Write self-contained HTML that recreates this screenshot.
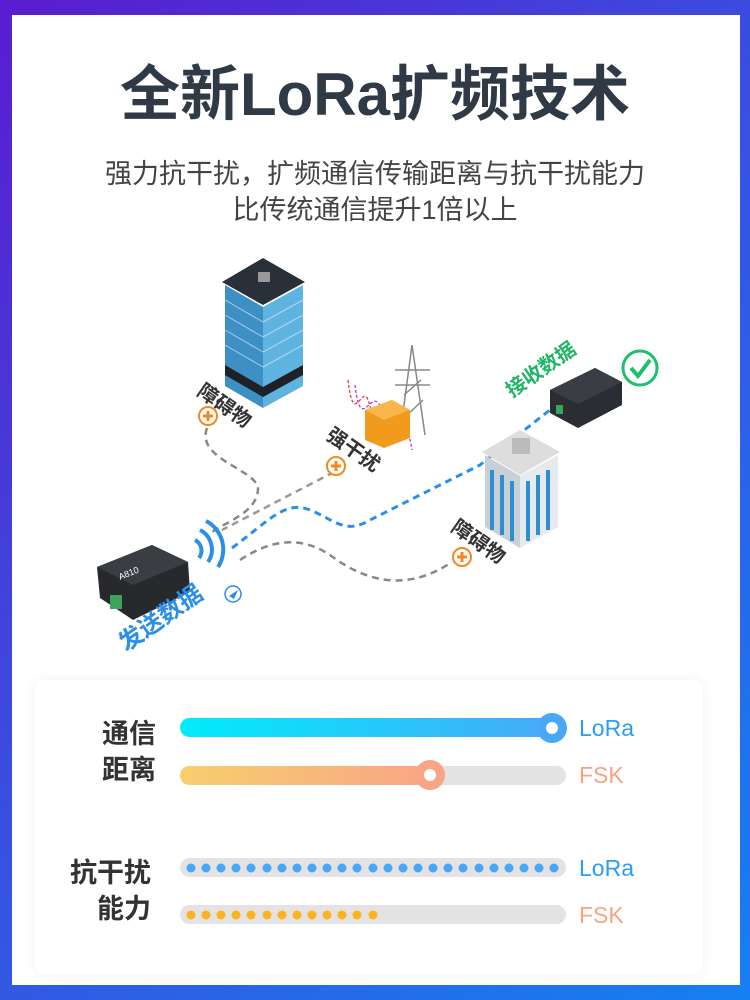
<!DOCTYPE html>
<html><head><meta charset="utf-8"><style>
*{margin:0;padding:0;box-sizing:border-box}
body{width:750px;height:1000px;overflow:hidden;background:linear-gradient(135deg,#5a1ccf 0%,#3a4de0 45%,#1580f2 100%);position:relative;font-family:"Liberation Sans","Noto Sans CJK SC",sans-serif}
.panel{position:absolute;left:12px;top:15px;width:728px;height:970px;background:#fff}
.t{position:absolute;left:0;width:750px;text-align:center}
.card{position:absolute;left:35px;top:680px;width:668px;height:295px;background:#fff;border-radius:10px;box-shadow:0 0 12px rgba(0,0,0,0.06)}
.lab{position:absolute;font-weight:bold;color:#333;font-size:27px;text-align:right;line-height:36px}
.tr{position:absolute;left:180px;width:386px;height:19px;border-radius:10px;background:#e3e3e3}
.lg{position:absolute;font-size:23px;left:579px}
</style></head><body>
<div class="panel"></div>
<div class="t" style="top:46px;font-size:60px;font-weight:bold;color:#2f3a46">全新LoRa扩频技术</div>
<div class="t" style="top:156px;font-size:27px;color:#444;line-height:36px">强力抗干扰，扩频通信传输距离与抗干扰能力<br>比传统通信提升1倍以上</div>

<svg style="position:absolute;left:0;top:0" width="750" height="680">
<g fill="none" stroke-width="2.5" stroke-dasharray="7 5">
<path d="M207 428 C195 460,260 470,258 490 C256 512,230 520,212 532" stroke="#888"/>
<path d="M334 472 L222 530" stroke="#999"/>
<path d="M232 548 C270 520,285 500,310 510 C335 520,345 535,370 520 L480 465 L560 402" stroke="#2b8ee8" stroke-width="3"/>
<path d="M240 560 C270 540,300 535,330 555 C370 585,410 590,452 562" stroke="#888"/>
</g>
<polygon points="263,258 305,282 263,305 222,282" fill="#2a3038"/>
<rect x="258" y="272" width="12" height="10" fill="#999"/>
<polygon points="225,285 263,307 263,408 225,386" fill="#3e8fc4"/>
<polygon points="263,307 303,285 303,386 263,408" fill="#5fb3e0"/>
<polygon points="225,365 263,387 303,365 303,375 263,397 225,375" fill="#1e2228"/>
<g stroke="#cfe8f5" stroke-width="1" opacity=".7">
<line x1="225" y1="300" x2="263" y2="322"/><line x1="225" y1="315" x2="263" y2="337"/><line x1="225" y1="330" x2="263" y2="352"/><line x1="225" y1="345" x2="263" y2="367"/>
<line x1="263" y1="322" x2="303" y2="300"/><line x1="263" y1="337" x2="303" y2="315"/><line x1="263" y1="352" x2="303" y2="330"/><line x1="263" y1="367" x2="303" y2="345"/>
</g>
<g stroke="#888" stroke-width="1.5" fill="none"><path d="M412 345 L400 435 M412 345 L425 435 M402 420 L423 400 M404 395 L421 380 M395 370 L430 370 M395 385 L430 385"/></g>
<g fill="none" stroke-width="1.3" stroke-dasharray="3 2"><path d="M348 380 C355 440,365 360,372 420 C380 460,390 380,398 440" stroke="#e33"/><path d="M355 385 C362 445,375 365,385 425 C392 465,402 390,412 450" stroke="#b3c"/></g>
<polygon points="365,410 392,400 410,410 410,438 384,448 365,440" fill="#f29a1b"/>
<polygon points="365,410 392,400 410,410 384,420" fill="#f7b54a"/>
<polygon points="520,430 560,452 520,475 482,452" fill="#ddd"/>
<rect x="512" y="438" width="18" height="16" fill="#bbb"/>
<polygon points="485,455 520,476 520,548 485,527" fill="#c9cfd6"/>
<polygon points="520,476 558,455 558,527 520,548" fill="#e6eaee"/>
<g fill="#2e8fcf"><rect x="490" y="470" width="4" height="60"/><rect x="500" y="475" width="4" height="60"/><rect x="510" y="481" width="4" height="60"/><rect x="526" y="481" width="4" height="60"/><rect x="536" y="475" width="4" height="60"/><rect x="546" y="470" width="4" height="60"/></g>
<polygon points="550,390 595,368 622,382 622,405 578,428 550,413" fill="#2a2d31"/>
<polygon points="550,390 595,368 622,382 578,404" fill="#3a3e44"/>
<rect x="556" y="405" width="7" height="9" fill="#3aa55a"/>
<circle cx="640" cy="368" r="17" fill="none" stroke="#1fbf6e" stroke-width="3"/>
<path d="M631 368 L638 376 L650 360" fill="none" stroke="#1fbf6e" stroke-width="4"/>
<polygon points="97,567 152,545 188,562 190,592 133,620 100,598" fill="#27292d"/>
<polygon points="97,567 152,545 188,562 133,585" fill="#3a3d42"/>
<rect x="110" y="595" width="12" height="14" fill="#3aa55a"/>
<text x="120" y="580" font-size="9" fill="#fff" transform="rotate(-22 120 580)" font-family="Liberation Sans">A810</text>
<g fill="none" stroke="#2b8ee8" stroke-width="4"><path d="M195 540 a12 12 0 0 1 4 18"/><path d="M200 530 a22 22 0 0 1 8 32"/><path d="M206 521 a32 32 0 0 1 12 46"/></g>
<g fill="#fff" stroke="#f7861f" stroke-width="2"><circle cx="208" cy="416" r="9"/><circle cx="336" cy="466" r="9"/><circle cx="462" cy="557" r="9"/></g>
<g stroke="#f7861f" stroke-width="3"><path d="M203 416h10M208 411v10M331 466h10M336 461v10M457 557h10M462 552v10"/></g>
<circle cx="233" cy="594" r="8" fill="#fff" stroke="#2b8ee8" stroke-width="1.5"/><path d="M229 596 L238 590 L234 599 Z" fill="#2b8ee8"/>
<g font-family="Liberation Sans,Noto Sans CJK SC,sans-serif" font-weight="bold" font-size="20">
<text x="196" y="394" fill="#333" transform="rotate(35 196 394)">障碍物</text>
<text x="325" y="438" fill="#333" transform="rotate(35 325 438)">强干扰</text>
<text x="450" y="530" fill="#333" transform="rotate(35 450 530)">障碍物</text>
<text x="512" y="398" fill="#22b566" transform="rotate(-35 512 398)">接收数据</text>
<text x="126" y="652" fill="#2b8ee8" font-size="24" transform="rotate(-35 126 652)">发送数据</text>
</g>
</svg>

<div class="card"></div>
<div class="lab" style="left:102px;top:716px">通信<br>距离</div>
<div class="lab" style="left:70px;top:855px">抗干扰<br>能力</div>

<div class="tr" style="top:718px;background:linear-gradient(90deg,#00ecfb,#4aa7f8)"></div>
<div style="position:absolute;left:537px;top:713px;width:30px;height:30px;border-radius:50%;background:#4aa7f8"></div>
<div style="position:absolute;left:546px;top:722px;width:12px;height:12px;border-radius:50%;background:#fff"></div>
<div class="lg" style="top:715px;color:#2a9df4">LoRa</div>

<div class="tr" style="top:766px"></div>
<div style="position:absolute;left:180px;top:766px;width:255px;height:19px;border-radius:10px;background:linear-gradient(90deg,#f7cf6e,#f9a585)"></div>
<div style="position:absolute;left:415px;top:760px;width:30px;height:30px;border-radius:50%;background:#f9a585"></div>
<div style="position:absolute;left:424px;top:769px;width:12px;height:12px;border-radius:50%;background:#fff"></div>
<div class="lg" style="top:762px;color:#f7a47e">FSK</div>

<div class="tr" style="top:858px"></div>
<div class="lg" style="top:855px;color:#2a9df4">LoRa</div>
<div class="tr" style="top:905px"></div>
<div class="lg" style="top:902px;color:#f7a47e">FSK</div>
<svg style="position:absolute;left:0;top:850px" width="750" height="80">
<g fill="#4aa7f8">
<circle cx="191" cy="18" r="4.5"/><circle cx="206" cy="18" r="4.5"/><circle cx="221" cy="18" r="4.5"/><circle cx="236" cy="18" r="4.5"/><circle cx="251" cy="18" r="4.5"/><circle cx="267" cy="18" r="4.5"/><circle cx="282" cy="18" r="4.5"/><circle cx="297" cy="18" r="4.5"/><circle cx="312" cy="18" r="4.5"/><circle cx="327" cy="18" r="4.5"/><circle cx="342" cy="18" r="4.5"/><circle cx="357" cy="18" r="4.5"/><circle cx="373" cy="18" r="4.5"/><circle cx="388" cy="18" r="4.5"/><circle cx="403" cy="18" r="4.5"/><circle cx="418" cy="18" r="4.5"/><circle cx="433" cy="18" r="4.5"/><circle cx="448" cy="18" r="4.5"/><circle cx="463" cy="18" r="4.5"/><circle cx="479" cy="18" r="4.5"/><circle cx="494" cy="18" r="4.5"/><circle cx="509" cy="18" r="4.5"/><circle cx="524" cy="18" r="4.5"/><circle cx="539" cy="18" r="4.5"/><circle cx="554" cy="18" r="4.5"/>
</g>
<g fill="#fbb321">
<circle cx="191" cy="65" r="4.5"/><circle cx="206" cy="65" r="4.5"/><circle cx="221" cy="65" r="4.5"/><circle cx="236" cy="65" r="4.5"/><circle cx="251" cy="65" r="4.5"/><circle cx="267" cy="65" r="4.5"/><circle cx="282" cy="65" r="4.5"/><circle cx="297" cy="65" r="4.5"/><circle cx="312" cy="65" r="4.5"/><circle cx="327" cy="65" r="4.5"/><circle cx="342" cy="65" r="4.5"/><circle cx="357" cy="65" r="4.5"/><circle cx="373" cy="65" r="4.5"/>
</g>
</svg>
</body></html>
